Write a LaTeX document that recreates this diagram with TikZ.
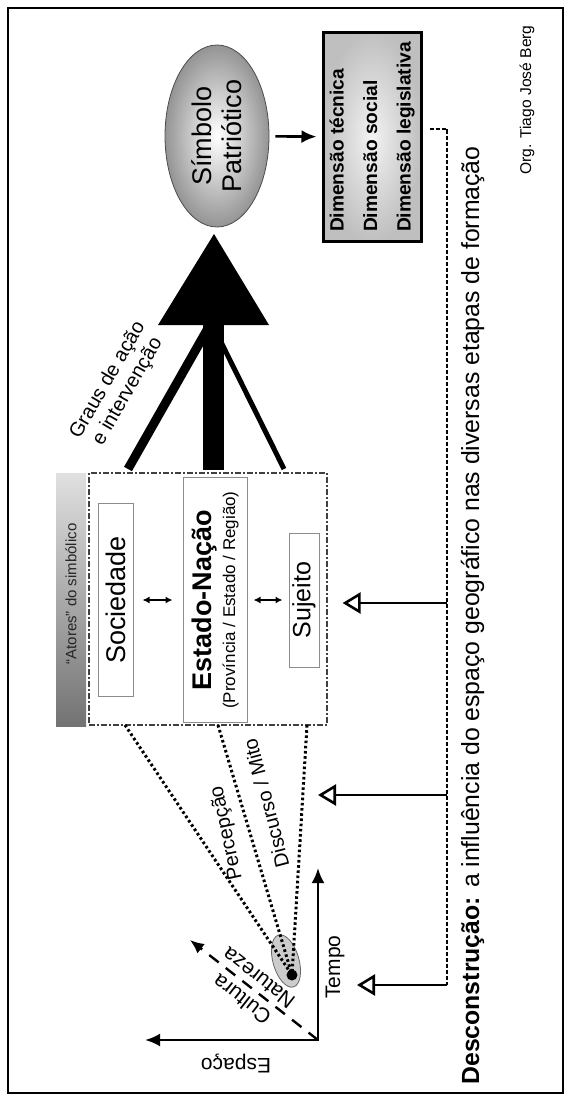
\documentclass[tikz,border=0pt]{standalone}
\usepackage{fontspec}
\setmainfont{Liberation Sans}
\usetikzlibrary{shapes.geometric,arrows.meta}

\begin{document}
\begin{tikzpicture}[x=0.5pt, y=-0.5pt,
  vert/.style={rotate=90, inner sep=0pt},
  caixa/.style={rotate=90, draw=black!45, line width=0.5pt, inner sep=0pt},
  pontilhado/.style={line width=1.5pt, dash pattern=on 1.3pt off 1.3pt},
  tracejado/.style={line width=0.9pt, dash pattern=on 2pt off 1pt},
  seta/.style={line width=1.3pt, -{Latex[length=7.5pt, width=6.5pt]}},
  aberta/.style={line width=1.3pt, -{Triangle[open, length=9pt, width=10.5pt]}},
  duplo/.style={line width=0.7pt, {Latex[length=3.5pt, width=3.5pt]}-{Latex[length=3.5pt, width=3.5pt]}},
  rotulo/.style={inner sep=0pt, font=\fontsize{10}{12}\selectfont}]
\useasboundingbox (0,0) rectangle (571,1102);
% moldura
\draw[line width=1.3pt] (8,8) rectangle (563,1093);
\node[vert, font=\fontsize{7.8}{9}\selectfont] (org) at (527,100) {Org. Tiago José Berg};

% simbolo e dimensoes
\node[ellipse, rotate=90, draw=black!70, line width=0.4pt, inner color=white, outer color=black!42,
  minimum width=91pt, minimum height=52pt, inner sep=0pt, align=center,
  font=\fontsize{13.5}{15}\selectfont] (simbolo) at (217,136) {Símbolo\\Patriótico};
\node[rotate=90, draw, line width=1.5pt, inner color=black!5, outer color=black!25,
  minimum height=49pt, inner xsep=5pt, inner ysep=0pt, align=left,
  font=\fontsize{9.6}{16.75}\selectfont\bfseries] (dim) at (372,137)
  {Dimensão técnica\\Dimensão social\\Dimensão legislativa};
\draw[seta, shorten <=3pt, shorten >=2.5pt] (simbolo) -- (dim);

% seta grande
\fill (214,234) -- (269,325) -- (158,325) -- cycle;
\fill (203,324) rectangle (224,470);
\draw[line width=4.5pt] (128,469) -- (207,330);
\draw[line width=2.5pt] (284,469) -- (220,340);
\node[rotate=60, align=center, inner sep=0pt, font=\fontsize{10}{11.5}\selectfont] (graus) at (118,386)
  {Graus de ação\\e intervenção};

% atores do simbolico
\shade[top color=black!12, bottom color=black!55] (56,473) rectangle (86,726);
\node[vert, text=black!85, font=\fontsize{7.5}{9}\selectfont] (atorestxt) at (71,594) {“Atores” do simbólico};
\node[draw=black!75, line width=0.6pt, dash pattern=on 3pt off 1.2pt on 0.6pt off 1.2pt,
  minimum width=119pt, minimum height=126pt, inner sep=0pt] (atores) at (208,599) {};
\node[caixa, minimum width=96.5pt, minimum height=17.5pt, font=\fontsize{13.5}{15}\selectfont] (soc) at (115.5,600) {Sociedade};
\node[caixa, minimum width=122.5pt, minimum height=32pt, align=center, font=\fontsize{8.5}{12}\selectfont] (estado) at (215,600)
  {{\fontsize{13.5}{12}\selectfont\bfseries Estado-Nação}\\(Província / Estado / Região)};
\node[caixa, minimum width=67pt, minimum height=15pt, font=\fontsize{12.5}{14}\selectfont] (suj) at (304,600) {Sujeito};
\draw[duplo, shorten <=4.5pt, shorten >=5pt] (soc) -- (estado);
\draw[duplo, shorten <=3pt, shorten >=3pt] (estado) -- (suj);

% eixos
\coordinate (origem) at (318,1040);
\coordinate (tempo) at (318,868);
\coordinate (espaco) at (145,1040);
\coordinate (cultura) at (190,940);
\draw[line width=1.3pt, {Latex[length=7.5pt, width=6.5pt]}-{Latex[length=7.5pt, width=6.5pt]}] (tempo) |- (espaco);
\draw[line width=1.2pt, dash pattern=on 6pt off 4.5pt, -{Latex[length=7pt, width=6pt]}] (origem) -- (cultura);
\node[vert, font=\fontsize{10.5}{12}\selectfont] (tempolbl) at (335,967) {Tempo};
\node[rotate=180, inner sep=0pt, font=\fontsize{10.5}{12}\selectfont] (espacolbl) at (236,1063) {Espaço};
\node[rotate=142, align=center, inner sep=0pt, font=\fontsize{10.5}{13.5}\selectfont] (cultlbl) at (250,989) {Cultura\\Natureza};

% percepcao e discurso
\node[ellipse, rotate=16, draw=black!60, fill=black!20, minimum width=13pt, minimum height=27pt, inner sep=0pt] (mancha) at (286,961) {};
\coordinate (p1) at (125,725);
\coordinate (p2) at (218,725);
\coordinate (p3) at (307,725);
\coordinate (foco) at (292,975);
\draw[pontilhado] (p1) -- (foco);
\draw[pontilhado] (p2) -- (foco);
\draw[pontilhado] (p3) -- (foco);
\node[circle, fill, inner sep=0pt, minimum size=5.5pt] (ponto) at (foco) {};
\node[rotulo, rotate=102] (perc) at (227,833) {Percepção};
\node[rotulo, rotate=104.6] (disc) at (266,803) {Discurso / Mito};

% desconstrucao
\coordinate (canto) at (447,985);
\coordinate (d1) at (447,603);
\coordinate (d2) at (447,795);
\coordinate (alvo2) at (318,795);
\coordinate (alvo3) at (357,985);
\draw[tracejado] ([xshift=3.5pt, yshift=4pt]dim.south) -| (canto);
\draw[aberta, shorten >=7.5pt] (d1) -- (atores.east |- d1);
\draw[aberta] (d2) -- (alvo2);
\draw[aberta] (canto) -- (alvo3);
\node[vert, anchor=base west, font=\fontsize{12.4}{14}\selectfont] (desc) at (479,1085)
  {\textbf{Desconstrução:} a influência do espaço geográfico nas diversas etapas de formação};
\end{tikzpicture}
\end{document}
